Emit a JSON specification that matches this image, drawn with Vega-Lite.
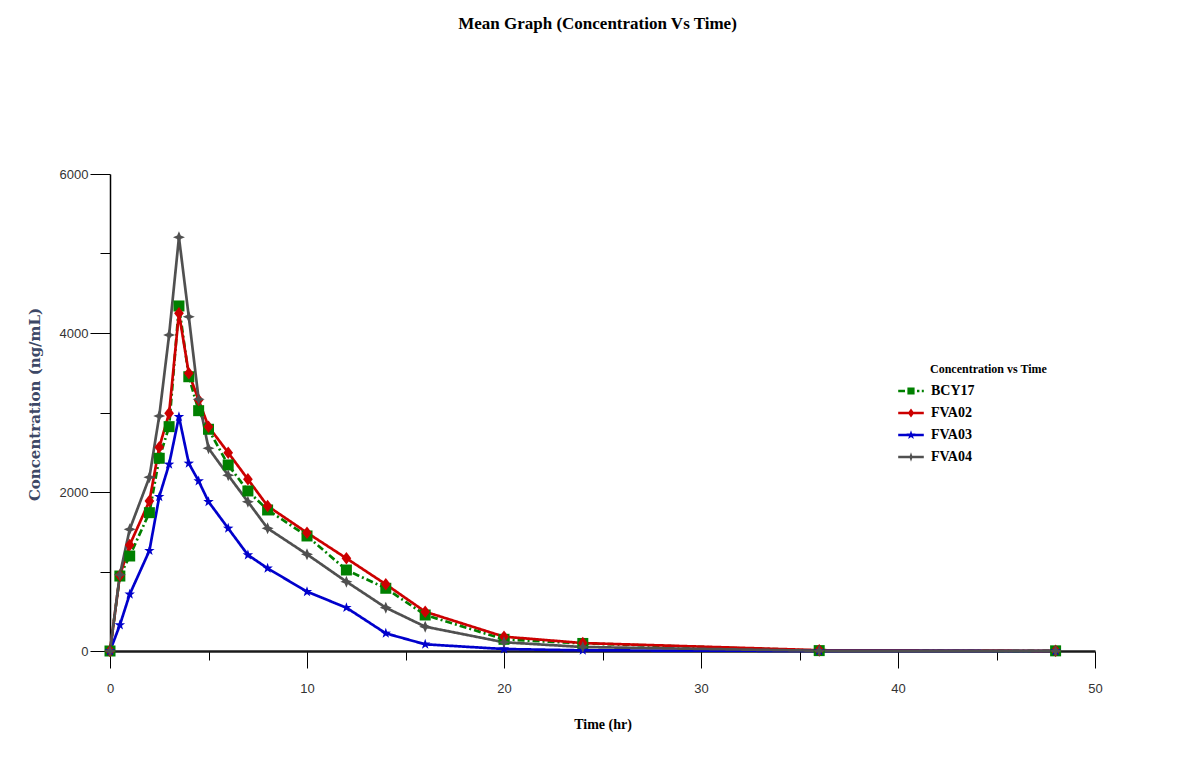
{
  "$schema": "https://vega.github.io/schema/vega-lite/v6.json",
  "width": 985,
  "height": 477,
  "autosize": "none",
  "padding": {"left": 110, "top": 174, "right": 89, "bottom": 122},
  "background": "white",
  "title": {
    "text": "Mean Graph (Concentration Vs Time)",
    "font": "Liberation Serif",
    "fontSize": 17,
    "fontWeight": "bold",
    "color": "black",
    "anchor": "middle",
    "offset": 135,
    "dx": -5
  },
  "data": {
    "values": [
      {"t": 0, "c": 0, "s": "BCY17"}, {"t": 0.5, "c": 943, "s": "BCY17"}, {"t": 1, "c": 1195, "s": "BCY17"}, {"t": 2, "c": 1740, "s": "BCY17"}, {"t": 2.5, "c": 2424, "s": "BCY17"}, {"t": 3, "c": 2822, "s": "BCY17"}, {"t": 3.5, "c": 4340, "s": "BCY17"}, {"t": 4, "c": 3450, "s": "BCY17"}, {"t": 4.5, "c": 3023, "s": "BCY17"}, {"t": 5, "c": 2789, "s": "BCY17"}, {"t": 6, "c": 2340, "s": "BCY17"}, {"t": 7, "c": 2013, "s": "BCY17"}, {"t": 8, "c": 1774, "s": "BCY17"}, {"t": 10, "c": 1447, "s": "BCY17"}, {"t": 12, "c": 1019, "s": "BCY17"}, {"t": 14, "c": 789, "s": "BCY17"}, {"t": 16, "c": 453, "s": "BCY17"}, {"t": 20, "c": 147, "s": "BCY17"}, {"t": 24, "c": 95, "s": "BCY17"}, {"t": 36, "c": 5, "s": "BCY17"}, {"t": 48, "c": 2, "s": "BCY17"},
      {"t": 0, "c": 0, "s": "FVA02"}, {"t": 0.5, "c": 950, "s": "FVA02"}, {"t": 1, "c": 1333, "s": "FVA02"}, {"t": 2, "c": 1887, "s": "FVA02"}, {"t": 2.5, "c": 2562, "s": "FVA02"}, {"t": 3, "c": 2990, "s": "FVA02"}, {"t": 3.5, "c": 4248, "s": "FVA02"}, {"t": 4, "c": 3493, "s": "FVA02"}, {"t": 4.5, "c": 3157, "s": "FVA02"}, {"t": 5, "c": 2822, "s": "FVA02"}, {"t": 6, "c": 2495, "s": "FVA02"}, {"t": 7, "c": 2160, "s": "FVA02"}, {"t": 8, "c": 1824, "s": "FVA02"}, {"t": 10, "c": 1488, "s": "FVA02"}, {"t": 12, "c": 1166, "s": "FVA02"}, {"t": 14, "c": 839, "s": "FVA02"}, {"t": 16, "c": 494, "s": "FVA02"}, {"t": 20, "c": 180, "s": "FVA02"}, {"t": 24, "c": 100, "s": "FVA02"}, {"t": 36, "c": 10, "s": "FVA02"}, {"t": 48, "c": 2, "s": "FVA02"},
      {"t": 0, "c": 0, "s": "FVA03"}, {"t": 0.5, "c": 327, "s": "FVA03"}, {"t": 1, "c": 713, "s": "FVA03"}, {"t": 2, "c": 1262, "s": "FVA03"}, {"t": 2.5, "c": 1941, "s": "FVA03"}, {"t": 3, "c": 2348, "s": "FVA03"}, {"t": 3.5, "c": 2947, "s": "FVA03"}, {"t": 4, "c": 2360, "s": "FVA03"}, {"t": 4.5, "c": 2138, "s": "FVA03"}, {"t": 5, "c": 1878, "s": "FVA03"}, {"t": 6, "c": 1543, "s": "FVA03"}, {"t": 7, "c": 1208, "s": "FVA03"}, {"t": 8, "c": 1040, "s": "FVA03"}, {"t": 10, "c": 746, "s": "FVA03"}, {"t": 12, "c": 545, "s": "FVA03"}, {"t": 14, "c": 222, "s": "FVA03"}, {"t": 16, "c": 84, "s": "FVA03"}, {"t": 20, "c": 25, "s": "FVA03"}, {"t": 24, "c": 8, "s": "FVA03"}, {"t": 36, "c": 1, "s": "FVA03"}, {"t": 48, "c": 0, "s": "FVA03"},
      {"t": 0, "c": 0, "s": "FVA04"}, {"t": 0.5, "c": 960, "s": "FVA04"}, {"t": 1, "c": 1530, "s": "FVA04"}, {"t": 2, "c": 2185, "s": "FVA04"}, {"t": 2.5, "c": 2956, "s": "FVA04"}, {"t": 3, "c": 3975, "s": "FVA04"}, {"t": 3.5, "c": 5204, "s": "FVA04"}, {"t": 4, "c": 4205, "s": "FVA04"}, {"t": 4.5, "c": 3166, "s": "FVA04"}, {"t": 5, "c": 2550, "s": "FVA04"}, {"t": 6, "c": 2210, "s": "FVA04"}, {"t": 7, "c": 1878, "s": "FVA04"}, {"t": 8, "c": 1543, "s": "FVA04"}, {"t": 10, "c": 1216, "s": "FVA04"}, {"t": 12, "c": 872, "s": "FVA04"}, {"t": 14, "c": 545, "s": "FVA04"}, {"t": 16, "c": 306, "s": "FVA04"}, {"t": 20, "c": 110, "s": "FVA04"}, {"t": 24, "c": 50, "s": "FVA04"}, {"t": 36, "c": 3, "s": "FVA04"}, {"t": 48, "c": 1, "s": "FVA04"}
    ]
  },
  "encoding": {
    "x": {
      "field": "t",
      "type": "quantitative",
      "scale": {"domain": [0, 50], "nice": false, "zero": false},
      "axis": {
        "title": "Time (hr)",
        "values": [0, 5, 10, 15, 20, 25, 30, 35, 40, 45, 50],
        "labelExpr": "datum.value % 10 === 0 ? datum.label : ''",
        "tickSize": {"condition": {"test": "datum.value % 10 === 0", "value": 17}, "value": 9},
        "tickColor": "black",
        "tickWidth": 1,
        "domainColor": "#1a1a1a",
        "domainWidth": 2.5,
        "labelFont": "Liberation Sans",
        "labelFontSize": 13,
        "labelColor": "#333333",
        "labelPadding": 14,
        "labelFlush": false,
        "titleFont": "Liberation Serif",
        "titleFontSize": 14,
        "titleFontWeight": "bold",
        "titleColor": "black",
        "titlePadding": 22,
        "grid": false
      }
    },
    "y": {
      "field": "c",
      "type": "quantitative",
      "scale": {"domain": [0, 6000], "nice": false},
      "axis": {
        "title": "Concentration (ng/mL)",
        "values": [0, 1000, 2000, 3000, 4000, 5000, 6000],
        "format": "d",
        "labelExpr": "datum.value % 2000 === 0 ? datum.label : ''",
        "tickSize": {"condition": {"test": "datum.value % 2000 === 0", "value": 20}, "value": 10},
        "tickColor": "black",
        "tickWidth": 1,
        "domainColor": "black",
        "domainWidth": 1.5,
        "labelFont": "Liberation Sans",
        "labelFontSize": 13,
        "labelColor": "#333333",
        "labelPadding": 2,
        "labelFlush": false,
        "titleFont": "DejaVu Serif",
        "titleFontSize": 15,
        "titleFontWeight": "bold",
        "titleColor": "#3d4866",
        "titlePadding": 17,
        "titleY": 230,
        "grid": false
      }
    }
  },
  "layer": [
    {
      "transform": [{"filter": "datum.t === 48"}],
      "mark": {"type": "point", "filled": true, "opacity": 0, "size": 64},
      "encoding": {
        "color": {
          "field": "s",
          "type": "nominal",
          "title": "Concentration vs Time",
          "scale": {"domain": ["BCY17", "FVA02", "FVA03", "FVA04"], "range": ["#008000", "#cc0000", "#0000cc", "#505050"]},
          "legend": {
            "orient": "none",
            "legendX": 794,
            "legendY": 190,
            "symbolSize": 64,
            "symbolOpacity": 1,
            "symbolStrokeWidth": 0,
            "labelOffset": 13,
            "labelFont": "Liberation Serif",
            "labelFontWeight": "bold",
            "labelFontSize": 14,
            "labelColor": "black",
            "titleFont": "Liberation Serif",
            "titleFontSize": 12,
            "titleFontWeight": "bold",
            "titleColor": "black",
            "titlePadding": 8,
            "rowPadding": 8,
            "encode": {
              "symbols": {"update": {"opacity": {"value": 1}, "fillOpacity": {"value": 1}}},
              "title": {"update": {"dx": {"value": 26}}}
            }
          }
        },
        "shape": {
          "field": "s",
          "type": "nominal",
          "title": "Concentration vs Time",
          "scale": {
            "domain": ["BCY17", "FVA02", "FVA03", "FVA04"],
            "range": [
              "M-3.2,-0.3H-1.5V0.3H-3.2Z M-0.9,-0.9H0.9V0.9H-0.9Z M1.5,-0.3H2.1V0.3H1.5Z M2.7,-0.3H3.2V0.3H2.7Z",
              "M-3.2,-0.3H3.2V0.3H-3.2Z M0,-1.1L0.8,0L0,1.1L-0.8,0Z",
              "M-3.2,-0.3H3.2V0.3H-3.2Z M0,-1.2L0.282,-0.389L1.141,-0.371L0.456,0.149L0.706,0.971L0,0.48L-0.706,0.971L-0.456,0.149L-1.141,-0.371L-0.282,-0.389Z",
              "M-3.2,-0.3H3.2V0.3H-3.2Z M0,-1.2L0.3,-0.3L1.2,0L0.3,0.3L0,1.2L-0.3,0.3L-1.2,0L-0.3,-0.3Z"
            ]
          }
        }
      }
    },
    {
      "mark": {"type": "line", "strokeWidth": 2.7},
      "encoding": {
        "color": {"field": "s", "type": "nominal", "legend": null},
        "strokeDash": {"field": "s", "type": "nominal", "scale": {"domain": ["BCY17", "FVA02", "FVA03", "FVA04"], "range": [[7, 3, 2, 3], [1, 0], [1, 0], [1, 0]]}, "legend": null}
      }
    },
    {
      "transform": [{"filter": "datum.s === 'BCY17'"}],
      "mark": {"type": "point", "filled": true, "opacity": 1, "size": 121, "shape": "M-1,-1H1V1H-1Z"},
      "encoding": {"color": {"field": "s", "type": "nominal", "legend": null}}
    },
    {
      "transform": [{"filter": "datum.s === 'FVA02'"}],
      "mark": {"type": "point", "filled": true, "opacity": 1, "size": 130, "shape": "M0,-1.1L0.85,0L0,1.1L-0.85,0Z"},
      "encoding": {"color": {"field": "s", "type": "nominal", "legend": null}}
    },
    {
      "transform": [{"filter": "datum.s === 'FVA03'"}],
      "mark": {"type": "point", "filled": true, "opacity": 1, "size": 121, "shape": "M0,-1L0.235,-0.324L0.951,-0.309L0.38,0.124L0.588,0.809L0,0.4L-0.588,0.809L-0.38,0.124L-0.951,-0.309L-0.235,-0.324Z"},
      "encoding": {"color": {"field": "s", "type": "nominal", "legend": null}}
    },
    {
      "transform": [{"filter": "datum.s === 'FVA04'"}],
      "mark": {"type": "point", "filled": true, "opacity": 1, "size": 144, "shape": "M0,-1L0.3,-0.3L1,0L0.3,0.3L0,1L-0.3,0.3L-1,0L-0.3,-0.3Z"},
      "encoding": {"color": {"field": "s", "type": "nominal", "legend": null}}
    }
  ],
  "config": {
    "view": {"stroke": null}
  }
}
